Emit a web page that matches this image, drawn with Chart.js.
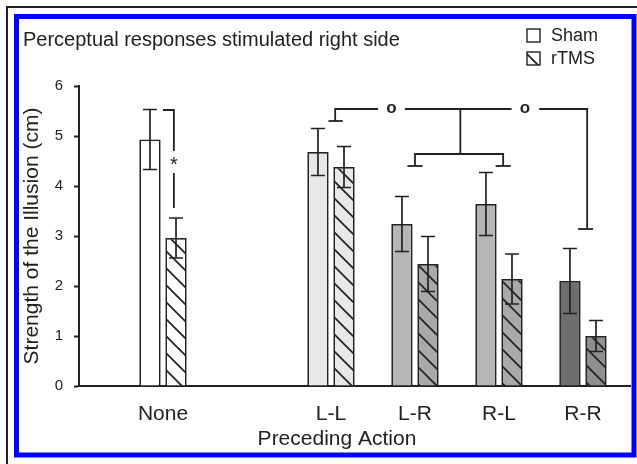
<!DOCTYPE html>
<html>
<head>
<meta charset="utf-8">
<script src="https://cdn.jsdelivr.net/npm/chart.js@4.4.0/dist/chart.umd.min.js"></script>
<style>
  html, body { margin:0; padding:0; background:#fff; }
  canvas { display:block; }
</style>
</head>
<body>
<canvas id="chart" width="637" height="464"></canvas>
<script>
// data (blank entry = gap between None and L-L)
const categories = ['None', '', 'L-L', 'L-R', 'R-L', 'R-R'];
const shamValues = [4.93, null, 4.68, 3.24, 3.64, 2.10];
const shamErrors = [0.60, null, 0.47, 0.55, 0.63, 0.65];
const rtmsValues = [2.96, null, 4.38, 2.44, 2.14, 1.00];
const rtmsErrors = [0.40, null, 0.41, 0.55, 0.50, 0.31];
const yTicks = [0, 1, 2, 3, 4, 5, 6];

const shamColors = ['#ffffff', '#ffffff', '#e8e8e8', '#b6b6b6', '#b6b6b6', '#6e6e6e'];
const rtmsColors = ['#ffffff', '#ffffff', '#e8e8e8', '#a9a9a9', '#a9a9a9', '#8f8f8f'];

const FONT = "'Liberation Sans', Arial, sans-serif";
const INK = '#222';

function hatch(bg) {
  const c = document.createElement('canvas');
  c.width = 17; c.height = 17;
  const g = c.getContext('2d');
  g.fillStyle = bg; g.fillRect(0, 0, 17, 17);
  g.strokeStyle = INK; g.lineWidth = 1.7;
  for (const k of [-17, 0, 17]) {
    g.beginPath(); g.moveTo(k - 1, -1); g.lineTo(k + 18, 18); g.stroke();
  }
  return g.createPattern(c, 'repeat');
}

const toPoints = vals => vals.map((v, i) => ({ x: i + 1, y: v }));

// error bars drawn from the bar elements and the y scale
const errorBars = {
  id: 'errorBars',
  afterDatasetsDraw(chart) {
    const ctx = chart.ctx, y = chart.scales.y;
    const errs = [shamErrors, rtmsErrors];
    chart.data.datasets.forEach((ds, d) => {
      const meta = chart.getDatasetMeta(d);
      meta.data.forEach((el, i) => {
        const v = ds.data[i].y, e = errs[d][i];
        if (v == null || e == null) return;
        const top = y.getPixelForValue(v + e), bot = y.getPixelForValue(v - e);
        ctx.save();
        ctx.strokeStyle = INK; ctx.lineWidth = 1.7;
        ctx.beginPath();
        ctx.moveTo(el.x, top); ctx.lineTo(el.x, bot);
        ctx.moveTo(el.x - 7, top); ctx.lineTo(el.x + 7, top);
        ctx.moveTo(el.x - 7, bot); ctx.lineTo(el.x + 7, bot);
        ctx.stroke();
        ctx.restore();
      });
    });
  }
};

// significance brackets, in data units
const brackets = {
  id: 'brackets',
  afterDatasetsDraw(chart) {
    const ctx = chart.ctx, xs = chart.scales.x, ys = chart.scales.y;
    const X = v => xs.getPixelForValue(v), Y = v => ys.getPixelForValue(v);
    const path = pts => {
      ctx.beginPath();
      pts.forEach((p, i) => i ? ctx.lineTo(X(p[0]), Y(p[1])) : ctx.moveTo(X(p[0]), Y(p[1])));
      ctx.stroke();
    };
    ctx.save();
    ctx.strokeStyle = INK; ctx.lineWidth = 1.8;
    // None: Sham vs rTMS
    path([[1.0, 5.52], [1.13, 5.52], [1.13, 4.70]]);
    path([[1.13, 4.26], [1.13, 3.56]]);
    // L-L cap and top line with two gaps
    path([[2.97, 5.30], [3.14, 5.30]]);
    path([[3.05, 5.30], [3.05, 5.54], [3.56, 5.54]]);
    path([[3.88, 5.54], [5.15, 5.54]]);
    path([[5.48, 5.54], [6.05, 5.54], [6.05, 3.14]]);
    path([[5.94, 3.14], [6.12, 3.14]]);
    // middle fork to L-R / R-L
    path([[4.54, 5.54], [4.54, 4.64]]);
    path([[4.0, 4.40], [4.0, 4.64], [5.05, 4.64], [5.05, 4.40]]);
    path([[3.91, 4.40], [4.09, 4.40]]);
    path([[4.96, 4.40], [5.14, 4.40]]);
    ctx.fillStyle = INK;
    ctx.textAlign = 'center'; ctx.textBaseline = 'middle';
    ctx.font = '20px ' + FONT;
    ctx.fillText('*', X(1.13), Y(4.42));
    ctx.font = 'bold 17px ' + FONT;
    ctx.fillText('o', X(3.72), Y(5.54) - 1);
    ctx.fillText('o', X(5.31), Y(5.54) - 1);
    ctx.restore();
  }
};

// frame, title, legend, x-axis caption
const decor = {
  id: 'decor',
  beforeDraw(chart) {
    const ctx = chart.ctx;
    ctx.save();
    ctx.fillStyle = '#fff'; ctx.fillRect(0, 0, 637, 464);
    ctx.fillStyle = INK;
    ctx.fillRect(6, 6, 631, 2);
    ctx.fillRect(6, 6, 2, 458);
    ctx.strokeStyle = '#0000ff'; ctx.lineWidth = 5;
    ctx.strokeRect(16.5, 16.5, 617.5, 438.5);
    ctx.restore();
  },
  afterDraw(chart) {
    const ctx = chart.ctx;
    ctx.save();
    ctx.fillStyle = INK;
    ctx.textBaseline = 'alphabetic'; ctx.textAlign = 'left';
    ctx.font = '20px ' + FONT;
    ctx.fillText('Perceptual responses stimulated right side', 23, 46);
    ctx.font = '21px ' + FONT;
    ctx.textAlign = 'center'; ctx.textBaseline = 'middle';
    ctx.fillText('Preceding Action', 337, 439);
    ctx.font = '18px ' + FONT;
    ctx.textAlign = 'left';
    chart.data.datasets.forEach((ds, d) => {
      const bx = 527, by = 29 + d * 23;
      ctx.fillStyle = d ? hatch('#fff') : '#fff';
      if (d) ctx.fillStyle.setTransform(new DOMMatrix().translate(bx - 2, by));
      ctx.fillRect(bx, by, 13, 13);
      ctx.strokeStyle = INK; ctx.lineWidth = 1.4;
      ctx.strokeRect(bx, by, 13, 13);
      ctx.fillStyle = INK;
      ctx.fillText(ds.label, 551, by + 7);
    });
    ctx.restore();
  }
};

new Chart(document.getElementById('chart'), {
  type: 'bar',
  data: {
    datasets: [
      { label: 'Sham', data: toPoints(shamValues), backgroundColor: shamColors,
        borderColor: INK, borderWidth: 1.7, categoryPercentage: 0.62, barPercentage: 0.82 },
      { label: 'rTMS', data: toPoints(rtmsValues), backgroundColor: rtmsColors.map(hatch),
        borderColor: INK, borderWidth: 1.7, categoryPercentage: 0.62, barPercentage: 0.82 }
    ]
  },
  options: {
    responsive: false,
    animation: false,
    devicePixelRatio: 1,
    layout: { padding: { left: 0, top: 86, right: 7, bottom: 0 } },
    plugins: { legend: { display: false }, title: { display: false }, tooltip: { enabled: false } },
    scales: {
      x: {
        type: 'linear', min: 0, max: 6.56, offset: false,
        grid: { display: false, offset: false },
        border: { display: true, color: INK, width: 2 },
        ticks: {
          stepSize: 1, includeBounds: false, autoSkip: false, maxRotation: 0, padding: 8,
          color: INK, font: { family: FONT, size: 21 },
          callback: v => categories[v - 1] || ''
        },
        afterFit: s => { s.height = 78; }
      },
      y: {
        min: 0, max: 6,
        grid: { drawOnChartArea: false, tickLength: 5, tickColor: INK, tickWidth: 2 },
        border: { display: true, color: INK, width: 2 },
        afterBuildTicks: s => { s.ticks = yTicks.map(v => ({ value: v })); },
        ticks: { padding: 11, color: INK, font: { family: FONT, size: 15 } },
        title: { display: true, text: 'Strength of the Illusion (cm)', color: INK,
          font: { family: FONT, size: 21 }, padding: { top: 20, bottom: 0 } },
        afterFit: s => { s.width = 79; }
      }
    }
  },
  plugins: [decor, errorBars, brackets]
});
</script>
</body>
</html>
